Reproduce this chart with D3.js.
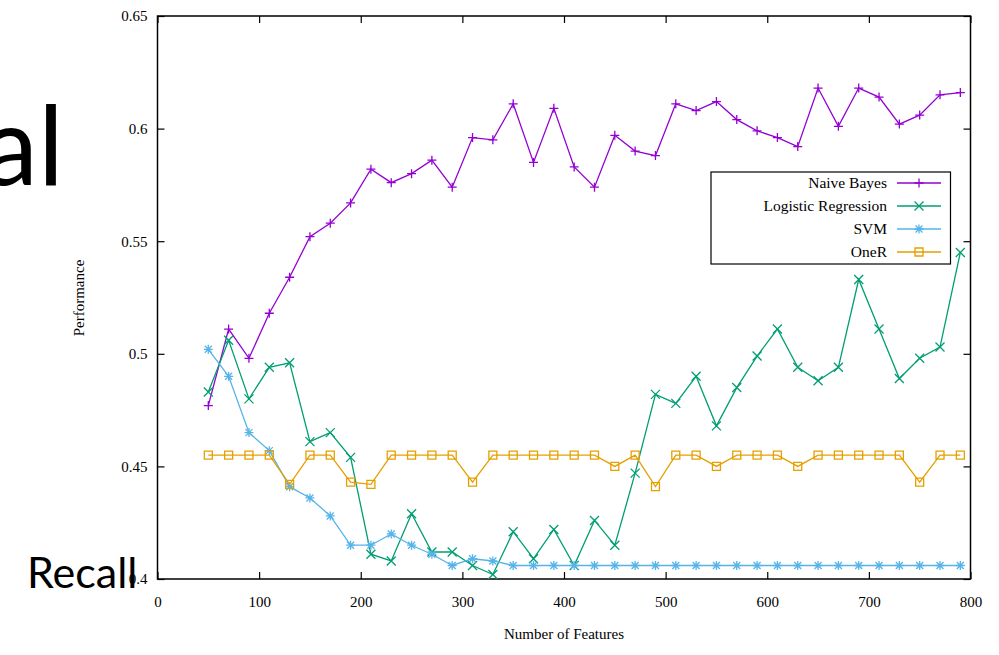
<!DOCTYPE html>
<html>
<head>
<meta charset="utf-8">
<script src="https://cdn.jsdelivr.net/npm/d3@7"></script>
<style>
  body { margin: 0; background: #fff; }
  svg { display: block; }
</style>
</head>
<body>
<script>
// feature counts used on the x axis
const features = [50, 70, 90, 110, 130, 150, 170, 190, 210, 230, 250, 270, 290, 310, 330, 350, 370, 390, 410,
  430, 450, 470, 490, 510, 530, 550, 570, 590, 610, 630, 650, 670, 690, 710, 730, 750, 770, 790];

const naiveBayes = [0.477, 0.511, 0.498, 0.518, 0.534, 0.552, 0.558, 0.567, 0.582, 0.576, 0.580, 0.586, 0.574,
  0.596, 0.595, 0.611, 0.585, 0.609, 0.583, 0.574, 0.597, 0.590, 0.588, 0.611, 0.608, 0.612, 0.604, 0.599,
  0.596, 0.592, 0.618, 0.601, 0.618, 0.614, 0.602, 0.606, 0.615, 0.616];

const logistic = [0.483, 0.506, 0.480, 0.494, 0.496, 0.461, 0.465, 0.454, 0.411, 0.408, 0.429, 0.412, 0.412,
  0.406, 0.402, 0.421, 0.409, 0.422, 0.406, 0.426, 0.415, 0.447, 0.482, 0.478, 0.490, 0.468, 0.485, 0.499,
  0.511, 0.494, 0.488, 0.494, 0.533, 0.511, 0.489, 0.498, 0.503, 0.545];

const svm = [0.502, 0.490, 0.465, 0.457, 0.441, 0.436, 0.428, 0.415, 0.415, 0.420, 0.415, 0.411, 0.406,
  0.409, 0.408, 0.406, 0.406, 0.406, 0.406, 0.406, 0.406, 0.406, 0.406, 0.406, 0.406, 0.406, 0.406, 0.406,
  0.406, 0.406, 0.406, 0.406, 0.406, 0.406, 0.406, 0.406, 0.406, 0.406];

const oneR = [0.455, 0.455, 0.455, 0.455, 0.442, 0.455, 0.455, 0.443, 0.442, 0.455, 0.455, 0.455, 0.455,
  0.443, 0.455, 0.455, 0.455, 0.455, 0.455, 0.455, 0.450, 0.455, 0.441, 0.455, 0.455, 0.450, 0.455, 0.455,
  0.455, 0.450, 0.455, 0.455, 0.455, 0.455, 0.455, 0.443, 0.455, 0.455];

const seriesNames = ['Naive Bayes', 'Logistic Regression', 'SVM', 'OneR'];
const seriesColors = ['#9400d3', '#009e73', '#56b4e9', '#e69f00'];
const seriesMarks = ['plus', 'cross', 'star', 'square'];
const xTicks = [0, 100, 200, 300, 400, 500, 600, 700, 800];
const yTicks = [0.4, 0.45, 0.5, 0.55, 0.6, 0.65];

const allSeries = [naiveBayes, logistic, svm, oneR];

const width = 999, height = 655;
const plotLeft = 157.5, plotRight = 970.5, plotTop = 16, plotBottom = 579;

const svg = d3.select('body').append('svg')
  .attr('width', width)
  .attr('height', height)
  .style('font-family', '"Liberation Serif", "Times New Roman", serif');

const x = d3.scaleLinear().domain([0, 800]).range([plotLeft, plotRight]);
const y = d3.scaleLinear().domain([0.4, 0.65]).range([plotBottom, plotTop]);

// axes: gnuplot style, ticks inside and mirrored
svg.append('g')
  .attr('transform', `translate(0,${plotBottom})`)
  .call(d3.axisBottom(x).tickValues(xTicks).tickSize(-7).tickSizeOuter(0).tickPadding(17).tickFormat(d3.format('d')))
  .call(g => g.select('.domain').remove());

svg.append('g')
  .attr('transform', `translate(${plotLeft},0)`)
  .call(d3.axisLeft(y).tickValues(yTicks).tickSize(-7).tickSizeOuter(0).tickPadding(10).tickFormat(d => String(+d.toFixed(2))))
  .call(g => g.select('.domain').remove());

svg.append('g')
  .attr('transform', `translate(0,${plotTop})`)
  .call(d3.axisTop(x).tickValues(xTicks).tickSize(-7).tickSizeOuter(0).tickFormat(''))
  .call(g => g.select('.domain').remove());

svg.append('g')
  .attr('transform', `translate(${plotRight},0)`)
  .call(d3.axisRight(y).tickValues(yTicks).tickSize(-7).tickSizeOuter(0).tickFormat(''))
  .call(g => g.select('.domain').remove());

svg.selectAll('.tick text')
  .attr('font-size', 15)
  .attr('font-family', '"Liberation Serif", serif')
  .attr('fill', '#000');
svg.selectAll('.tick line').attr('stroke', '#000').attr('stroke-width', 1.2);

svg.append('rect')
  .attr('x', plotLeft).attr('y', plotTop)
  .attr('width', plotRight - plotLeft).attr('height', plotBottom - plotTop)
  .attr('fill', 'none').attr('stroke', '#000').attr('stroke-width', 1.5);

// marker shapes
function markPath(kind) {
  const s = 4.5;
  if (kind === 'plus') return `M${-s},0H${s}M0,${-s}V${s}`;
  if (kind === 'cross') return `M${-s},${-s}L${s},${s}M${-s},${s}L${s},${-s}`;
  if (kind === 'star') return `M${-s},0H${s}M0,${-s}V${s}M${-3.5},${-3.5}L3.5,3.5M${-3.5},3.5L3.5,${-3.5}`;
  return `M${-4},${-4}H4V4H${-4}Z`;
}

const line = d3.line()
  .x((d, i) => x(features[i]))
  .y(d => y(d));

const plot = svg.append('g');
allSeries.forEach((vals, k) => {
  const g = plot.append('g');
  g.append('path')
    .datum(vals)
    .attr('d', line)
    .attr('fill', 'none')
    .attr('stroke', seriesColors[k])
    .attr('stroke-width', 1.3);
  g.selectAll('path.mark')
    .data(vals)
    .join('path')
    .attr('class', 'mark')
    .attr('transform', (d, i) => `translate(${x(features[i])},${y(d)})`)
    .attr('d', markPath(seriesMarks[k]))
    .attr('fill', 'none')
    .attr('stroke', seriesColors[k])
    .attr('stroke-width', 1.3);
});

// legend
const legend = svg.append('g');
legend.append('rect')
  .attr('x', 711).attr('y', 172)
  .attr('width', 239.5).attr('height', 92)
  .attr('fill', '#fff').attr('stroke', '#000').attr('stroke-width', 1.2);

seriesNames.forEach((name, k) => {
  const ly = 183 + k * 23;
  legend.append('text')
    .attr('x', 887).attr('y', ly)
    .attr('dy', '0.35em')
    .attr('text-anchor', 'end')
    .attr('font-size', 15.5)
    .text(name);
  legend.append('line')
    .attr('x1', 897).attr('x2', 941)
    .attr('y1', ly).attr('y2', ly)
    .attr('stroke', seriesColors[k]).attr('stroke-width', 1.3);
  legend.append('path')
    .attr('transform', `translate(919,${ly})`)
    .attr('d', markPath(seriesMarks[k]))
    .attr('fill', 'none')
    .attr('stroke', seriesColors[k]).attr('stroke-width', 1.3);
});

// axis titles
svg.append('text')
  .attr('transform', 'translate(84,298) rotate(-90)')
  .attr('text-anchor', 'middle')
  .attr('font-size', 15)
  .text('Performance');

svg.append('text')
  .attr('x', 564).attr('y', 639)
  .attr('text-anchor', 'middle')
  .attr('font-size', 15)
  .text('Number of Features');

// slide text showing behind / over the chart
svg.append('text')
  .attr('x', 64).attr('y', 185)
  .attr('text-anchor', 'end')
  .attr('font-family', 'Lato, "Open Sans", sans-serif')
  .attr('font-size', 110)
  .text('al');

svg.append('text')
  .attr('x', 27).attr('y', 588)
  .attr('font-family', 'Lato, "Open Sans", sans-serif')
  .attr('font-size', 43)
  .text('Recall');
</script>
</body>
</html>
